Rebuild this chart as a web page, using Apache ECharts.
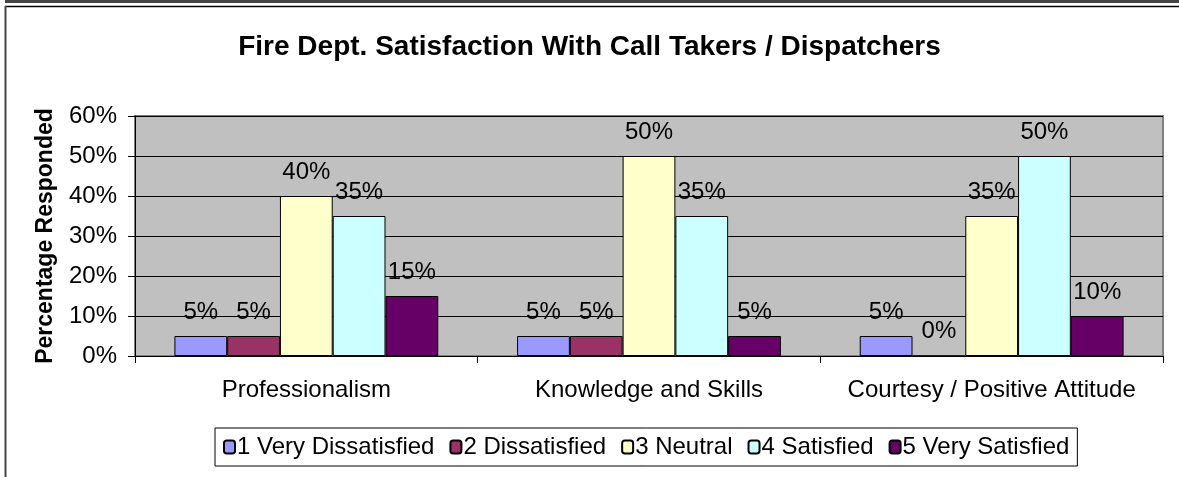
<!DOCTYPE html>
<html>
<head>
<meta charset="utf-8">
<script src="https://cdn.jsdelivr.net/npm/echarts@6/dist/echarts.min.js"></script>
<style>
  html, body { margin: 0; padding: 0; background: #fff; }
  #chart { width: 1179px; height: 477px; }
</style>
</head>
<body>
<div id="chart"></div>
<script>
// categories and series (percent responded)
var categories = ['Professionalism', 'Knowledge and Skills', 'Courtesy / Positive Attitude'];
var veryDissatisfied = [5, 5, 5];
var dissatisfied = [5, 5, 0];
var neutral = [40, 50, 35];
var satisfied = [35, 35, 50];
var verySatisfied = [15, 5, 10];
var seriesNames = ['1 Very Dissatisfied', '2 Dissatisfied', '3 Neutral', '4 Satisfied', '5 Very Satisfied'];
var yTicks = [0, 10, 20, 30, 40, 50, 60];

var colors = ['#9999FF', '#993366', '#FFFFCC', '#CCFFFF', '#660066'];
var font = 'Liberation Sans, Arial, sans-serif';

function bar(name, data, i) {
    return {
        name: name,
        type: 'bar',
        data: data,
        barGap: '0%',
        barCategoryGap: '23%',
        itemStyle: { color: colors[i], borderColor: '#000', borderWidth: 1 },
        label: {
            show: true,
            position: 'top',
            distance: 12,
            formatter: '{c}%',
            color: '#000',
            fontFamily: font,
            fontSize: 24
        }
    };
}

var myChart = echarts.init(document.getElementById('chart'));
var option = {
    animation: false,
    backgroundColor: '#fff',
    title: {
        text: 'Fire Dept. Satisfaction With Call Takers / Dispatchers',
        left: 'center',
        top: 28,
        textStyle: { fontFamily: font, fontSize: 28, fontWeight: 'bold', color: '#000' }
    },
    legend: {
        data: seriesNames,
        left: 215,
        top: 428,
        padding: [7, 8],
        itemGap: 15,
        itemWidth: 11,
        itemHeight: 13,
        borderColor: '#000',
        borderWidth: 1,
        backgroundColor: '#fff',
        textStyle: { fontFamily: font, fontSize: 24, color: '#000', padding: [0, 0, 0, -3] }
    },
    grid: {
        left: 135,
        right: 16,
        top: 116,
        bottom: 121,
        show: true,
        backgroundColor: '#C0C0C0',
        borderColor: '#808080',
        borderWidth: 2
    },
    xAxis: {
        type: 'category',
        data: categories,
        axisLine: { lineStyle: { color: '#000', width: 1 } },
        axisTick: { show: true, length: 7, lineStyle: { color: '#000' } },
        axisLabel: { color: '#000', fontFamily: font, fontSize: 24, margin: 22, interval: 0, hideOverlap: false }
    },
    yAxis: {
        type: 'value',
        min: yTicks[0],
        max: yTicks[yTicks.length - 1],
        interval: 10,
        name: 'Percentage Responded',
        nameLocation: 'middle',
        nameGap: 78,
        nameTextStyle: { fontFamily: font, fontSize: 23, fontWeight: 'bold', color: '#000' },
        axisLine: { show: true, lineStyle: { color: '#000', width: 1 } },
        axisTick: { show: true, length: 7, lineStyle: { color: '#000' } },
        axisLabel: { color: '#000', fontFamily: font, fontSize: 24, margin: 18, formatter: '{value}%' },
        splitLine: { lineStyle: { color: '#000', width: 1 } }
    },
    graphic: [
        { type: 'line', silent: true, shape: { x1: 5, y1: 1.5, x2: 1179, y2: 1.5 }, style: { stroke: '#444', lineWidth: 3 } },
        { type: 'line', silent: true, shape: { x1: 5, y1: 6.5, x2: 1179, y2: 6.5 }, style: { stroke: '#000', lineWidth: 1.5 } },
        { type: 'line', silent: true, shape: { x1: 5.5, y1: 6, x2: 5.5, y2: 477 }, style: { stroke: '#444', lineWidth: 2 } }
    ],
    series: [
        bar(seriesNames[0], veryDissatisfied, 0),
        bar(seriesNames[1], dissatisfied, 1),
        bar(seriesNames[2], neutral, 2),
        bar(seriesNames[3], satisfied, 3),
        bar(seriesNames[4], verySatisfied, 4)
    ]
};
myChart.setOption(option);
</script>
</body>
</html>
